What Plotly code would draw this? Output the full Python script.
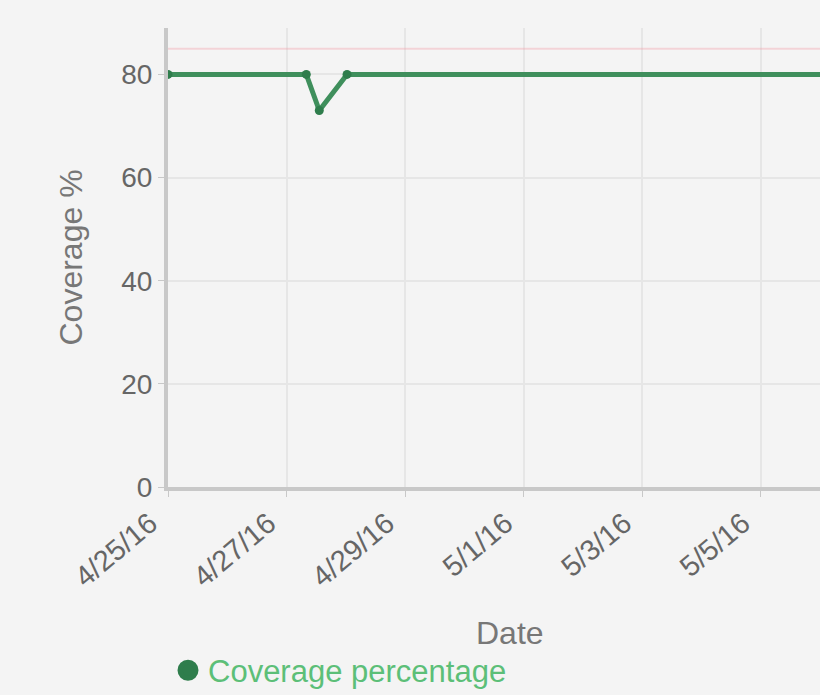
import plotly.graph_objects as go

dates = ["2016-04-25 00:00", "2016-04-27 08:00", "2016-04-27 13:15", "2016-04-28 00:30", "2016-05-07 00:00"]
coverage = [80, 80, 73.0, 80, 80]
tick_vals = ["2016-04-25", "2016-04-27", "2016-04-29", "2016-05-01", "2016-05-03", "2016-05-05"]
tick_text = ["4/25/16", "4/27/16", "4/29/16", "5/1/16", "5/3/16", "5/5/16"]
target = 85

fig = go.Figure()
fig.add_trace(go.Scatter(
    x=dates, y=coverage, mode="lines+markers", name="Coverage percentage",
    line=dict(color="#3f8f5c", width=5),
    marker=dict(color="#2f7d4c", size=9),
    showlegend=False,
))
fig.add_trace(go.Scatter(
    x=[None], y=[None], mode="markers", name="Coverage percentage",
    marker=dict(color="#2f7d4c", size=16, line=dict(color="#2f7d4c", width=5)),
))
fig.add_hline(y=target, line=dict(color="rgba(240,150,160,0.35)", width=2))

fig.update_layout(
    width=820, height=695,
    paper_bgcolor="#f4f4f4", plot_bgcolor="#f4f4f4",
    margin=dict(l=168, r=0, t=28, b=208, autoexpand=False),
    font=dict(family="Liberation Sans, Arial, sans-serif", size=28, color="#666"),
    showlegend=True,
    legend=dict(orientation="h", x=0.0, xanchor="left",
                y=-0.40, yanchor="middle",
                font=dict(size=31, color="#5cbf78"), bgcolor="rgba(0,0,0,0)"),
    xaxis=dict(
        range=["2016-04-25", "2016-05-06 00:00"], automargin=False,
        tickvals=tick_vals, ticktext=tick_text, tickangle=-40,
        tickfont=dict(size=29),
        ticklabelstandoff=-2, ticklabelshift=-18,
        showline=True, linecolor="#c8c8c8", linewidth=4,
        gridcolor="#e6e6e6", gridwidth=2, zeroline=False,
        ticks="outside", ticklen=6, tickcolor="#c8c8c8",
    ),
    yaxis=dict(
        range=[0, 89], tickvals=[0, 20, 40, 60, 80], automargin=False,
        showline=True, linecolor="#c8c8c8", linewidth=4,
        gridcolor="#e6e6e6", gridwidth=2, zeroline=False,
        ticks="outside", ticklen=6, tickcolor="#c8c8c8",
    ),
    annotations=[
        dict(text="Date", xref="paper", yref="paper", x=0.525, y=0,
             xanchor="center", yanchor="middle", yshift=-146, showarrow=False,
             font=dict(size=32, color="#777")),
        dict(text="Coverage %", xref="paper", yref="paper", x=0, y=0.5,
             xanchor="center", yanchor="middle", xshift=-98, textangle=-90,
             showarrow=False, font=dict(size=32, color="#777")),
    ],
)
fig.write_html("out.html")
